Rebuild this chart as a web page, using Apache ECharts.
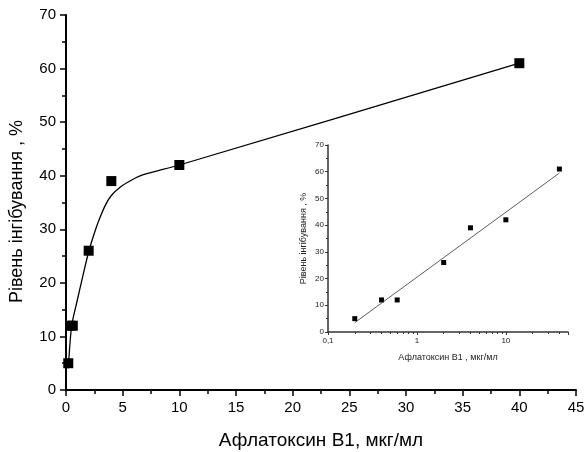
<!DOCTYPE html>
<html>
<head>
<meta charset="utf-8">
<script src="https://cdn.jsdelivr.net/npm/echarts@6/dist/echarts.min.js"></script>
<style>
  html, body { margin: 0; padding: 0; background: #fff; }
  #chart { width: 584px; height: 452px; }
</style>
</head>
<body>
<div id="chart"></div>
<script>
// measured points: concentration (mkg/ml) vs inhibition (%)
var conc = [0.2, 0.4, 0.6, 2, 4, 10, 40];
var inhib = [5, 12, 12, 26, 39, 42, 61];
// fitted curve of the main plot
var curveX = [0.2, 0.5, 1, 1.5, 2, 2.6, 3, 3.5, 4, 4.8, 5.8, 6.7, 10, 40];
var curveY = [4, 12, 16.8, 21.4, 25.8, 29.9, 32.2, 34.6, 36.3, 37.9, 39.2, 40.1, 42, 61];
// linear fit in the log inset
var fitX = [0.2, 40];
var fitY = [3.5, 59.5];

var font = 'Liberation Sans';

function pairs(xs, ys) {
  return xs.map(function (x, i) { return [x, ys[i]]; });
}

var chart = echarts.init(document.getElementById('chart'));

var option = {
  animation: false,
  backgroundColor: '#fff',
  textStyle: { fontFamily: font },
  grid: [
    { left: 66, right: 8, top: 15, bottom: 62, outerBoundsMode: 'none' },
    { left: 328, right: 16, top: 145, bottom: 120, outerBoundsMode: 'none' }
  ],
  xAxis: [{
    gridIndex: 0,
    type: 'value',
    min: 0, max: 45, interval: 5,
    name: 'Афлатоксин В1, мкг/мл',
    nameLocation: 'middle',
    nameGap: 41,
    nameTextStyle: { fontSize: 19, color: '#000', fontFamily: font },
    axisLine: { lineStyle: { color: '#000', width: 2 } },
    axisTick: { length: 6, lineStyle: { color: '#000', width: 1.5 } },
    minorTick: { show: true, splitNumber: 2, length: 4, lineStyle: { color: '#000', width: 1.5 } },
    axisLabel: { fontSize: 15, color: '#000', margin: 10 },
    splitLine: { show: false }
  }, {
    gridIndex: 1,
    type: 'log',
    logBase: 10,
    min: 0.1, max: 50,
    name: 'Афлатоксин В1 , мкг/мл',
    nameLocation: 'middle',
    nameGap: 21,
    nameTextStyle: { fontSize: 9, color: '#222', fontFamily: font },
    axisLine: { lineStyle: { color: '#333', width: 1.5 } },
    axisTick: { length: 3, lineStyle: { color: '#333' } },
    minorTick: { show: true, splitNumber: 9, length: 2, lineStyle: { color: '#333' } },
    axisLabel: {
      fontSize: 8, color: '#222', margin: 5, showMaxLabel: false,
      formatter: function (v) { return String(v).replace('.', ','); }
    },
    splitLine: { show: false }
  }],
  yAxis: [{
    gridIndex: 0,
    type: 'value',
    min: 0, max: 70, interval: 10,
    name: 'Рівень інгібування , %',
    nameLocation: 'middle',
    nameGap: 40,
    nameTextStyle: { fontSize: 18, color: '#000', fontFamily: font, padding: [0, 18, 0, 0] },
    axisLine: { show: true, lineStyle: { color: '#000', width: 2 } },
    axisTick: { show: true, length: 6, lineStyle: { color: '#000', width: 1.5 } },
    minorTick: { show: true, splitNumber: 2, length: 4, lineStyle: { color: '#000', width: 1.5 } },
    axisLabel: { fontSize: 15, color: '#000', margin: 10 },
    splitLine: { show: false }
  }, {
    gridIndex: 1,
    type: 'value',
    min: 0, max: 70, interval: 10,
    name: 'Рівень інгібування , %',
    nameLocation: 'middle',
    nameGap: 20,
    nameTextStyle: { fontSize: 9, color: '#222', fontFamily: font },
    axisLine: { show: true, lineStyle: { color: '#333', width: 1.5 } },
    axisTick: { show: true, length: 3, lineStyle: { color: '#333' } },
    minorTick: { show: true, splitNumber: 2, length: 2, lineStyle: { color: '#333' } },
    axisLabel: { fontSize: 8, color: '#222', margin: 4 },
    splitLine: { show: false }
  }],
  series: [{
    type: 'line',
    xAxisIndex: 0, yAxisIndex: 0,
    data: pairs(curveX, curveY),
    smooth: 0.25,
    showSymbol: false,
    lineStyle: { color: '#000', width: 1.3 }
  }, {
    type: 'scatter',
    xAxisIndex: 0, yAxisIndex: 0,
    data: pairs(conc, inhib),
    symbol: 'rect',
    symbolSize: 10,
    itemStyle: { color: '#000', opacity: 1 }
  }, {
    type: 'line',
    xAxisIndex: 1, yAxisIndex: 1,
    data: pairs(fitX, fitY),
    showSymbol: false,
    lineStyle: { color: '#333', width: 0.8 }
  }, {
    type: 'scatter',
    xAxisIndex: 1, yAxisIndex: 1,
    data: pairs(conc, inhib),
    symbol: 'rect',
    symbolSize: 5,
    itemStyle: { color: '#000', opacity: 1 }
  }]
};

chart.setOption(option);
</script>
</body>
</html>
